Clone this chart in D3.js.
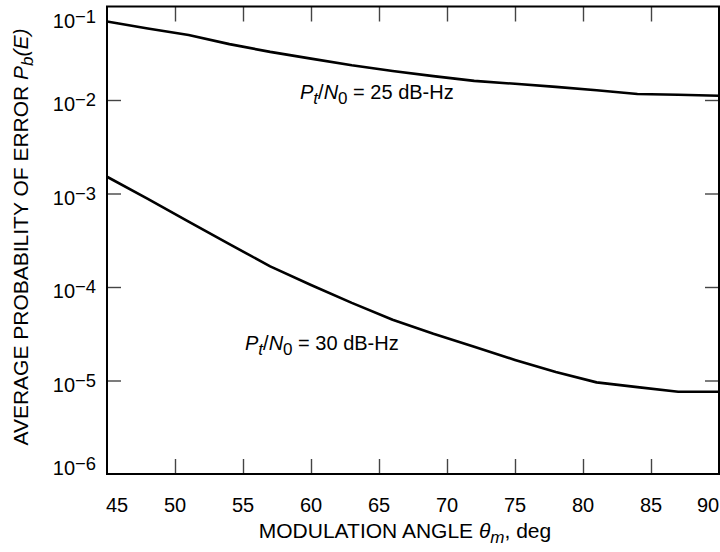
<!DOCTYPE html>
<html><head><meta charset="utf-8">
<script src="https://cdn.jsdelivr.net/npm/d3@7"></script>
<style>
body{margin:0;background:#fff}
svg{display:block}
text{font-family:"Liberation Sans",Arial,Helvetica,sans-serif;fill:#000}
</style>
</head><body>
<svg id="c" width="720" height="552"></svg>
<script>
// ---- data ----
const angles = [45,48,51,54,57,60,63,66,69,72,75,78,81,84,87,90];
const pe25 = [0.0692,0.0582,0.0495,0.0396,0.0327,0.0277,0.0235,0.0204,0.0180,0.0160,0.0149,0.0138,0.0127,0.0116,0.0114,0.0111];
const pe30 = [1.51e-3,8.77e-4,5.01e-4,2.88e-4,1.66e-4,1.05e-4,6.76e-5,4.47e-5,3.16e-5,2.29e-5,1.66e-5,1.23e-5,9.55e-6,8.5e-6,7.59e-6,7.59e-6];
const xTicks = [45,50,55,60,65,70,75,80,85,90];
const yExps = [-1,-2,-3,-4,-5,-6];

const svg = d3.select("#c");
const L = 107, R = 719, T = 6.5, B = 474;
const x = d3.scaleLinear().domain([45,90]).range([L,R]);
const y = d3.scaleLog().domain([1e-6,1e-1]).range([B,T]);

// inner ticks
const tickCol = "#444";
const g = svg.append("g");
const bt = d3.axisBottom(x).tickValues(xTicks.slice(1,-1)).tickSize(-15).tickFormat("");
const tt = d3.axisTop(x).tickValues(xTicks.slice(1,-1)).tickSize(-15).tickFormat("");
const lt = d3.axisLeft(y).tickValues(yExps.slice(1,-1).map(e=>Math.pow(10,e))).tickSize(-14).tickFormat("");
const rt = d3.axisRight(y).tickValues(yExps.slice(1,-1).map(e=>Math.pow(10,e))).tickSize(-14).tickFormat("");
[[bt,`translate(0,${B})`],[tt,`translate(0,${T})`],[lt,`translate(${L},0)`],[rt,`translate(${R},0)`]].forEach(([a,tr])=>{
  const ag = g.append("g").attr("transform",tr).call(a);
  ag.select(".domain").remove();
  ag.selectAll("line").attr("stroke",tickCol).attr("stroke-width",1.4);
});

// frame
svg.append("rect").attr("x",L).attr("y",T).attr("width",R-L).attr("height",B-T)
  .attr("fill","none").attr("stroke","#000").attr("stroke-width",2);

// curves
const line = d3.line().x((d,i)=>x(angles[i])).y(d=>y(d));
[pe25,pe30].forEach(s=>{
  svg.append("path").datum(s).attr("d",line).attr("fill","none")
    .attr("stroke","#000").attr("stroke-width",2.6).attr("stroke-linejoin","round");
});

// x tick labels
const fs = 20;
svg.append("g").selectAll("text").data(xTicks).join("text")
  .attr("x",d=> d===45 ? x(d)+10 : d===90 ? x(d)-11 : x(d))
  .attr("y",512).attr("text-anchor","middle").attr("font-size",fs).text(d=>d);

// y tick labels
const yl = svg.append("g").selectAll("text").data(yExps).join("text")
  .attr("x",96).attr("text-anchor","end").attr("font-size",fs)
  .attr("y",d=> d===-1 ? 28 : d===-6 ? 475 : y(Math.pow(10,d))+11);
yl.append("tspan").text("10");
yl.append("tspan").attr("dy",-5).attr("font-size",fs*0.92).text(d=>"\u2212"+(-d));

// axis titles
const xt = svg.append("text").attr("x",405).attr("y",538).attr("text-anchor","middle").attr("font-size",21);
xt.append("tspan").text("MODULATION ANGLE ");
xt.append("tspan").attr("font-style","italic").text("\u03b8");
xt.append("tspan").attr("font-style","italic").attr("font-size",17).attr("dy",5).text("m");
xt.append("tspan").attr("dy",-5).text(", deg");

const ytl = svg.append("text").attr("transform","translate(28,237) rotate(-90)").attr("text-anchor","middle").attr("font-size",21);
ytl.append("tspan").text("AVERAGE PROBABILITY OF ERROR ");
ytl.append("tspan").attr("font-style","italic").text("P");
ytl.append("tspan").attr("font-style","italic").attr("font-size",17).attr("dy",5).text("b");
ytl.append("tspan").attr("font-style","italic").attr("dy",-5).text("(E)");

// annotations
function note(xp, yp, val){
  const t = svg.append("text").attr("x",xp).attr("y",yp).attr("font-size",20);
  t.append("tspan").attr("font-style","italic").text("P");
  t.append("tspan").attr("font-style","italic").attr("font-size",17).attr("dy",5).text("t");
  t.append("tspan").attr("dy",-5).text("/");
  t.append("tspan").attr("font-style","italic").text("N");
  t.append("tspan").attr("font-size",17).attr("dy",5).text("0");
  t.append("tspan").attr("dy",-5).text(" = " + val + " dB-Hz");
}
note(300, 99, 25);
note(245, 350, 30);
</script>
</body></html>
